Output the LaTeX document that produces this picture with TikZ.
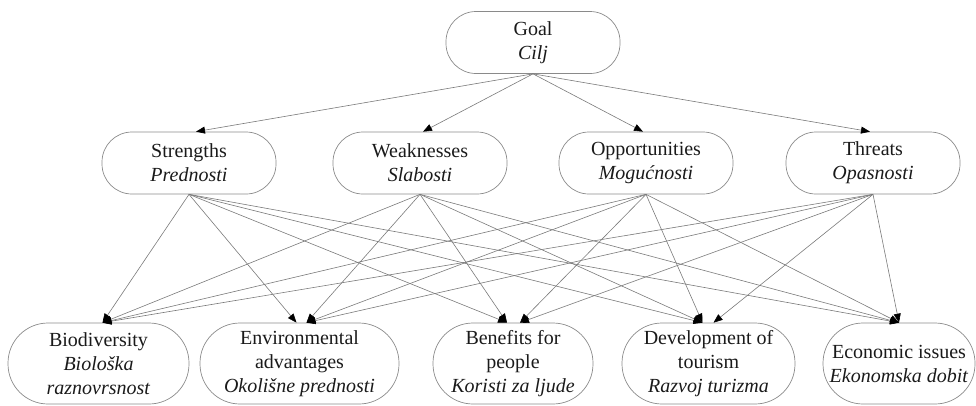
\documentclass[tikz,border=0pt]{standalone}
\usepackage{fontspec}
\setmainfont{Liberation Serif}
\usetikzlibrary{arrows.meta,calc}
\definecolor{boxgray}{HTML}{8A8A8A}
\definecolor{linegray}{HTML}{7A7A7A}
\definecolor{txt}{HTML}{1A1A1A}
\begin{document}
\begin{tikzpicture}[x=1pt,y=-1pt,
  box/.style={draw=boxgray,line width=0.7pt,rounded corners=30pt,minimum width=174pt,minimum height=62pt,align=center,font=\fontsize{20}{24}\selectfont,text=txt,inner sep=0pt},
  low/.style={box,rounded corners=40pt,minimum height=81pt},
  con/.style={draw=linegray,line width=0.6pt,-{Triangle[length=9pt,width=7pt,color=black]}}
]
\useasboundingbox (0,0) rectangle (976,405);
% top
\node[box] (G) at (533,42.5) {Goal\\\textit{Cilj}};
% middle
\node[box] (S) at (189,163) {Strengths\\\textit{Prednosti}};
\node[box] (W) at (420,163) {Weaknesses\\\textit{Slabosti}};
\node[box] (O) at (646,163) {Opportunities\\\textit{Mogućnosti}};
\node[box] (T) at (873,163) {Threats\\\textit{Opasnosti}};
% bottom
\node[low,minimum width=181pt] (Bi) at (98.5,363.5) {Biodiversity\\\textit{Biološka}\\\textit{raznovrsnost}};
\node[low,minimum width=199pt] (En) at (299.5,363.5) {Environmental\\advantages\\\textit{Okolišne prednosti}};
\node[low,minimum width=160pt] (Be) at (513,363.5) {Benefits for\\people\\\textit{Koristi za ljude}};
\node[low,minimum width=173pt] (De) at (708.5,363.5) {Development of\\tourism\\\textit{Razvoj turizma}};
\node[low,minimum width=152pt] (Ec) at (899,363.5) {Economic issues\\\textit{Ekonomska dobit}};
% goal edges
\foreach \t/\d in {S/7,W/3,O/-3,T/-3}
  \draw[con] (G.south) -- ($(\t.north)+(\d,0)$);
% middle to bottom
\foreach \s/\t/\d in {S/Bi/4,W/Bi/4,O/Bi/4,T/Bi/4,
  S/En/-3,W/En/7,O/En/7,T/En/7,
  S/Be/-6,W/Be/-6,O/Be/7,T/Be/7,
  S/De/-6,W/De/-6,O/De/-6,T/De/5,
  S/Ec/0,W/Ec/0,O/Ec/0,T/Ec/0}
  \draw[con] (\s.south) -- ($(\t.north)+(\d,0)$);
\end{tikzpicture}
\end{document}
